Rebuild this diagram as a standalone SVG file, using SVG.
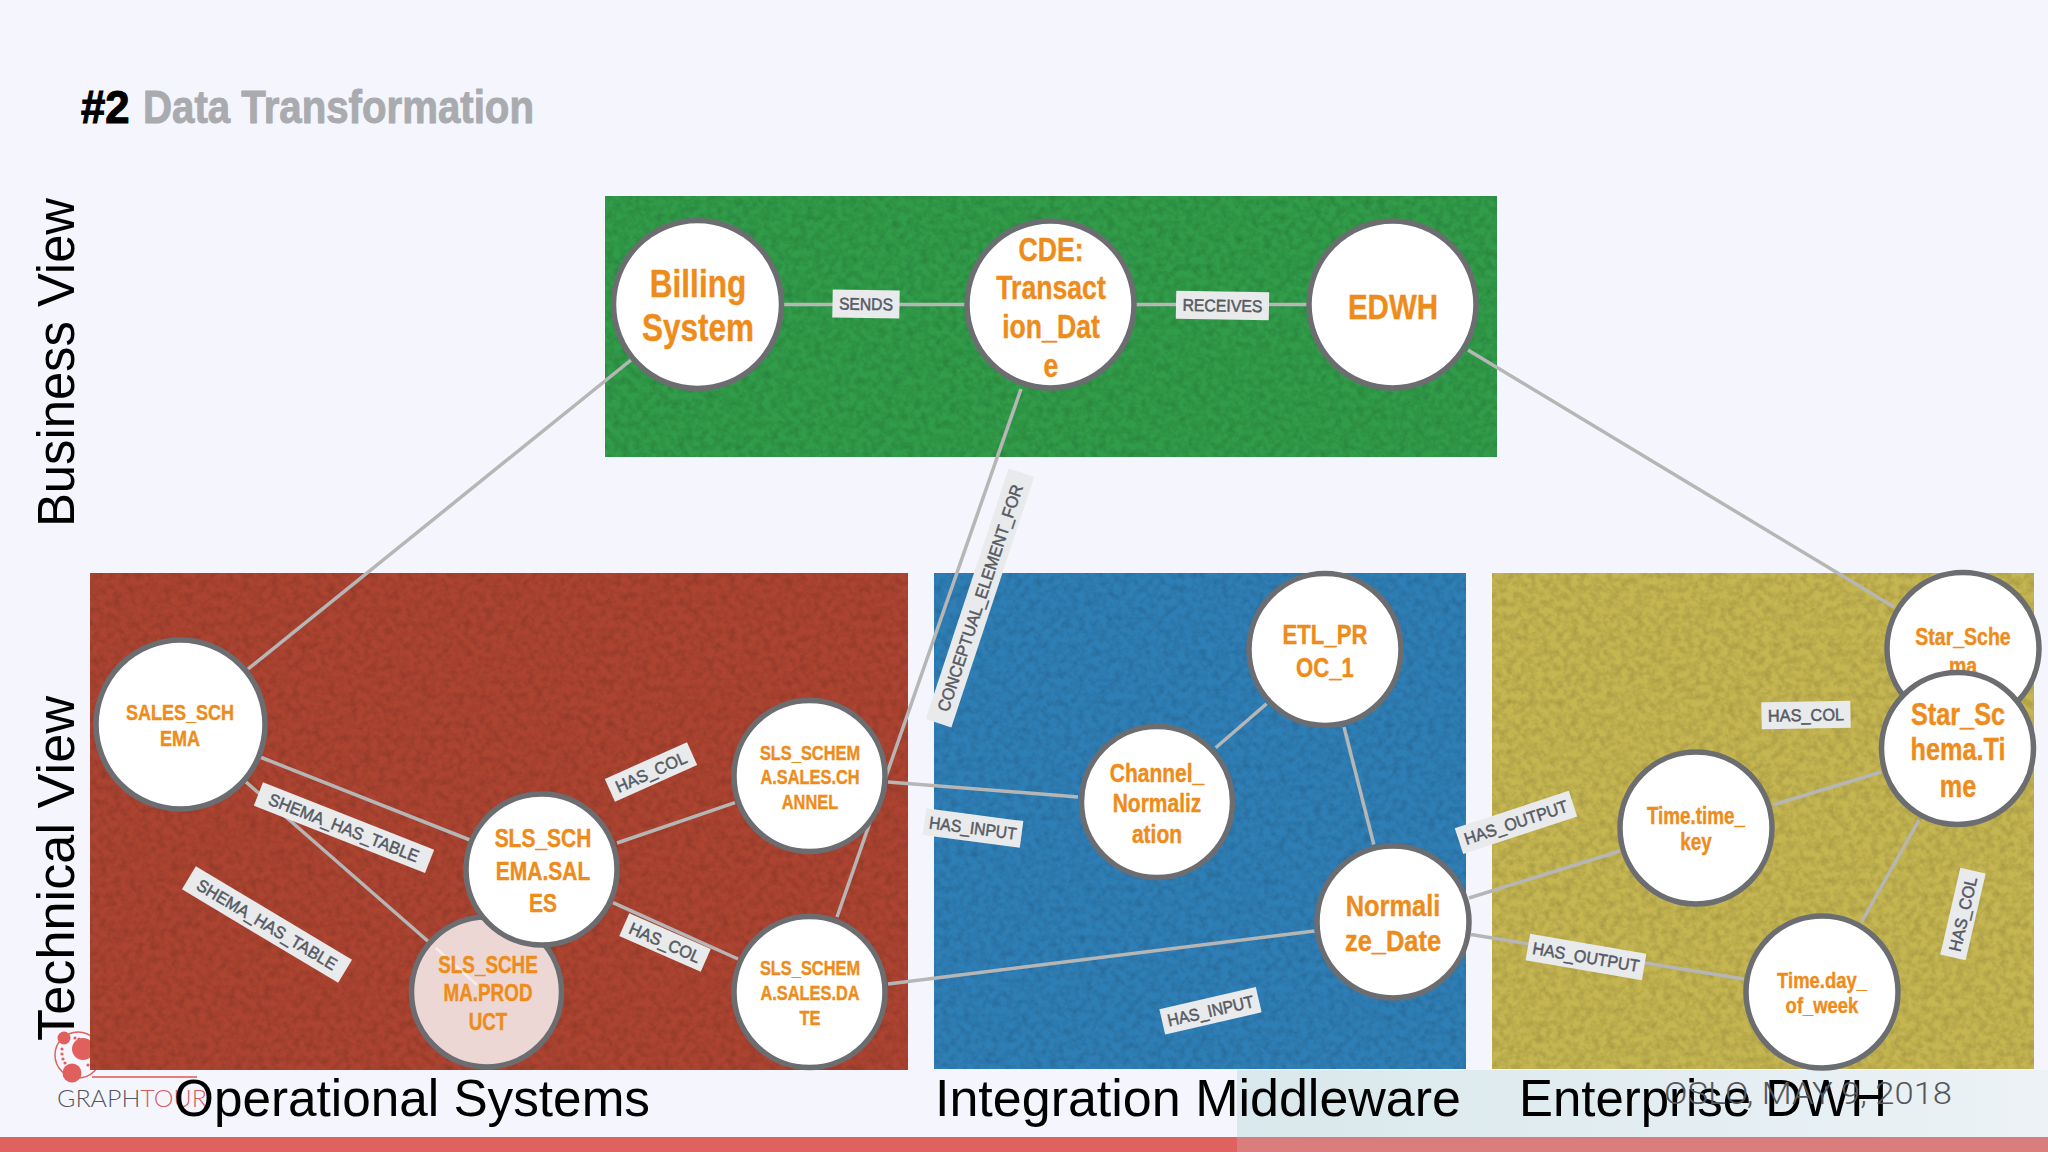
<svg xmlns="http://www.w3.org/2000/svg" width="2048" height="1152" viewBox="0 0 2048 1152">
<defs>
<style>
text{font-family:"Liberation Sans",Arial,sans-serif}
.n{fill:#fff;stroke:#6c6d71;stroke-width:5.5}
.nt{fill:#ee8c1b;font-weight:bold;text-anchor:middle;stroke:#ee8c1b;stroke-width:.4}
.c{stroke:#b6b6b6;stroke-width:3.5;fill:none}
.lb{fill:#e9eaec}
.lt{fill:#565a63;font-size:17px;text-anchor:middle;stroke:#565a63;stroke-width:.5}
.big{fill:#000;font-size:52px}
.side{fill:#000;font-size:51px}
.logo{fill:#e0605e}
</style>
<filter id="paper" x="0" y="0" width="1" height="1" color-interpolation-filters="sRGB">
<feTurbulence type="fractalNoise" baseFrequency="0.14" numOctaves="4" seed="7" result="t"/>
<feColorMatrix in="t" values="0 0 0 0 0 0 0 0 0 0 0 0 0 0 0 0.28 0 0 0 -0.1" result="a"/>
<feComposite in="a" in2="SourceGraphic" operator="in" result="b"/>
<feMerge><feMergeNode in="SourceGraphic"/><feMergeNode in="b"/></feMerge>
</filter>
<linearGradient id="fade" x1="0" y1="0" x2="1" y2="0">
<stop offset="0" stop-color="#d9e8ec"/><stop offset="1" stop-color="#ecf2f6"/>
</linearGradient>
</defs>
<rect width="2048" height="1152" fill="#f5f6fd"/>
<rect x="1237" y="1070" width="811" height="67" fill="url(#fade)"/>
<rect x="0" y="1137" width="1237" height="15" fill="#e0625f"/>
<rect x="1237" y="1137" width="811" height="15" fill="#d97e7d"/>

<g id="logo">
<circle cx="78" cy="1055" r="23" fill="none" stroke="#e0605e" stroke-width="1.5"/>
<circle class="logo" cx="64" cy="1038" r="6.5"/><circle class="logo" cx="72" cy="1073" r="9.5"/><circle class="logo" cx="83" cy="1049" r="11"/>
<circle class="logo" cx="62" cy="1049" r="1.6"/><circle class="logo" cx="62" cy="1054" r="1.6"/><circle class="logo" cx="63" cy="1059" r="1.6"/><circle class="logo" cx="65" cy="1063" r="1.6"/><circle class="logo" cx="75" cy="1038" r="1.6"/><circle class="logo" cx="79" cy="1039" r="1.6"/><circle class="logo" cx="88" cy="1065" r="1.6"/>
<rect x="92" y="1076.2" width="105" height="1.6" fill="#e0605e"/>
<text x="57" y="1107" font-size="24" font-weight="300" textLength="150" lengthAdjust="spacingAndGlyphs" style="font-family:Lato,sans-serif"><tspan fill="#55565c">GRAPH</tspan><tspan fill="#d85f5f">TOUR</tspan></text>
</g>

<g id="panels">
<rect x="605" y="196" width="892" height="261" fill="#319c49" filter="url(#paper)"/>
<rect x="90" y="573" width="818" height="497" fill="#ad4431" filter="url(#paper)"/>
<rect x="934" y="573" width="532" height="496" fill="#2f7fb7" filter="url(#paper)"/>
<rect x="1492" y="573" width="542" height="496" fill="#c5b651" filter="url(#paper)"/>
</g>

<text id="title" y="122.5" font-size="47" font-weight="bold"><tspan x="81" textLength="48.5" lengthAdjust="spacingAndGlyphs" fill="#000" stroke="#000" stroke-width="1.2">#2</tspan><tspan x="143" textLength="391" lengthAdjust="spacingAndGlyphs" fill="#aaabaf" stroke="#aaabaf" stroke-width="1">Data Transformation</tspan></text>
<text class="side" transform="translate(74,527) rotate(-90)" textLength="329" lengthAdjust="spacingAndGlyphs">Business View</text>
<text class="side" transform="translate(74,1041) rotate(-90)" textLength="345" lengthAdjust="spacingAndGlyphs">Technical View</text>
<text class="big" x="174" y="1116" textLength="476" lengthAdjust="spacingAndGlyphs">Operational Systems</text>
<text class="big" x="935" y="1116" textLength="526" lengthAdjust="spacingAndGlyphs">Integration Middleware</text>
<text class="big" x="1519" y="1116" textLength="368" lengthAdjust="spacingAndGlyphs">Enterprise DWH</text>
<text x="1664" y="1104" font-size="31" font-weight="300" fill="#55565c" textLength="288" lengthAdjust="spacingAndGlyphs" style="font-family:Roboto,sans-serif">OSLO, MAY 9, 2018</text>

<g id="connectors">
<line class="c" x1="631" y1="360" x2="248" y2="669"/>
<line class="c" x1="780" y1="304.5" x2="966" y2="304.5"/>
<line class="c" x1="1134" y1="304.5" x2="1310" y2="304.5"/>
<line class="c" x1="1021" y1="389" x2="837" y2="917"/>
<line class="c" x1="1468" y1="350" x2="1894" y2="607"/>
<line class="c" x1="260" y1="757" x2="470" y2="840"/>
<line class="c" x1="246" y1="782" x2="486" y2="992"/>
<line class="c" x1="617" y1="843" x2="735" y2="802.7"/>
<line class="c" x1="613" y1="902.7" x2="738" y2="959"/>
<line class="c" x1="888" y1="782" x2="1078" y2="797"/>
<line class="c" x1="888" y1="984" x2="1314.5" y2="931"/>
<line class="c" x1="1215.7" y1="747.8" x2="1266.6" y2="703.7"/>
<line class="c" x1="1344" y1="727" x2="1373.8" y2="844.5"/>
<line class="c" x1="1469" y1="898" x2="1620" y2="851"/>
<line class="c" x1="1471" y1="934.6" x2="1744" y2="979"/>
<line class="c" x1="1772.7" y1="805" x2="1881" y2="772"/>
<line class="c" x1="1919" y1="820" x2="1861.5" y2="922"/>
<g transform="translate(866,304) rotate(1)"><rect class="lb" x="-33.5" y="-14" width="67" height="28"/><text class="lt" y="6" textLength="54" lengthAdjust="spacingAndGlyphs">SENDS</text></g>
<g transform="translate(1222.5,305.5) rotate(1)"><rect class="lb" x="-46.5" y="-14" width="93" height="28"/><text class="lt" y="6" textLength="80" lengthAdjust="spacingAndGlyphs">RECEIVES</text></g>
<g transform="translate(980,598) rotate(-71.7)"><rect class="lb" x="-132" y="-13.5" width="264" height="27"/><text class="lt" y="6" textLength="238" lengthAdjust="spacingAndGlyphs">CONCEPTUAL_ELEMENT_FOR</text></g>
<g transform="translate(344,827.7) rotate(21.5)"><rect class="lb" x="-92" y="-12.5" width="184" height="25"/><text class="lt" y="6" textLength="160" lengthAdjust="spacingAndGlyphs">SHEMA_HAS_TABLE</text></g>
<g transform="translate(267,924.5) rotate(30.9)"><rect class="lb" x="-91" y="-13.5" width="182" height="27"/><text class="lt" y="6" textLength="160" lengthAdjust="spacingAndGlyphs">SHEMA_HAS_TABLE</text></g>
<g transform="translate(651,772) rotate(-24)"><rect class="lb" x="-45" y="-12.5" width="90" height="25"/><text class="lt" y="6" textLength="76" lengthAdjust="spacingAndGlyphs">HAS_COL</text></g>
<g transform="translate(665,942.5) rotate(23.7)"><rect class="lb" x="-44.5" y="-12.5" width="89" height="25"/><text class="lt" y="6" textLength="76" lengthAdjust="spacingAndGlyphs">HAS_COL</text></g>
<g transform="translate(973,828) rotate(7.6)"><rect class="lb" x="-49" y="-13.5" width="98" height="27"/><text class="lt" y="6" textLength="88" lengthAdjust="spacingAndGlyphs">HAS_INPUT</text></g>
<g transform="translate(1210.5,1010.8) rotate(-13)"><rect class="lb" x="-49.5" y="-13" width="99" height="26"/><text class="lt" y="6" textLength="88" lengthAdjust="spacingAndGlyphs">HAS_INPUT</text></g>
<g transform="translate(1516,822.4) rotate(-18.2)"><rect class="lb" x="-60" y="-13.5" width="120" height="27"/><text class="lt" y="6" textLength="108" lengthAdjust="spacingAndGlyphs">HAS_OUTPUT</text></g>
<g transform="translate(1586,957) rotate(9.7)"><rect class="lb" x="-59" y="-13.5" width="118" height="27"/><text class="lt" y="6" textLength="108" lengthAdjust="spacingAndGlyphs">HAS_OUTPUT</text></g>
<g transform="translate(1806,715) rotate(-1)"><rect class="lb" x="-44.5" y="-13.5" width="89" height="27"/><text class="lt" y="6" textLength="76" lengthAdjust="spacingAndGlyphs">HAS_COL</text></g>
<g transform="translate(1963,914) rotate(-77)"><rect class="lb" x="-44.5" y="-13" width="89" height="26"/><text class="lt" y="6" textLength="76" lengthAdjust="spacingAndGlyphs">HAS_COL</text></g>
</g>

<g id="nodes">
<g id="billing"><circle class="n" cx="697.5" cy="304.5" r="84"/><g transform="translate(698,0) scale(.83,1)"><text class="nt" font-size="38" y="297">Billing</text><text class="nt" font-size="38" y="341">System</text></g></g>
<g id="cde"><circle class="n" cx="1050.5" cy="304.5" r="83.5"/><g transform="translate(1051,0) scale(.82,1)"><text class="nt" font-size="32.5" y="261">CDE:</text><text class="nt" font-size="32.5" y="299.5">Transact</text><text class="nt" font-size="32.5" y="338.5">ion_Dat</text><text class="nt" font-size="32.5" y="377">e</text></g></g>
<g id="edwh"><circle class="n" cx="1392.5" cy="304.5" r="83.5"/><g transform="translate(1393,0) scale(.82,1)"><text class="nt" font-size="36" y="319">EDWH</text></g></g>
<g id="sales-schema"><circle class="n" cx="180.5" cy="724.5" r="84.5"/><g transform="translate(180,0) scale(.82,1)"><text class="nt" font-size="22" y="720">SALES_SCH</text><text class="nt" font-size="22" y="746">EMA</text></g></g>
<g id="sls-product"><circle class="n" cx="486.5" cy="992" r="75" style="fill:#ecd7d5"/><line x1="436" y1="948" x2="477" y2="985" stroke="#fff" stroke-width="2.5" opacity=".55"/><g transform="translate(488,0) scale(.82,1)"><text class="nt" font-size="23" y="973">SLS_SCHE</text><text class="nt" font-size="23" y="1001.5">MA.PROD</text><text class="nt" font-size="23" y="1030">UCT</text></g></g>
<g id="sls-sales"><circle class="n" cx="541.5" cy="869.5" r="75.5"/><g transform="translate(543,0) scale(.82,1)"><text class="nt" font-size="25.6" y="847">SLS_SCH</text><text class="nt" font-size="25.6" y="880">EMA.SAL</text><text class="nt" font-size="25.6" y="912">ES</text></g></g>
<g id="sls-channel"><circle class="n" cx="809.5" cy="776" r="75.5"/><g transform="translate(810,0) scale(.82,1)"><text class="nt" font-size="20" y="760">SLS_SCHEM</text><text class="nt" font-size="20" y="784.5">A.SALES.CH</text><text class="nt" font-size="20" y="809">ANNEL</text></g></g>
<g id="sls-date"><circle class="n" cx="809.5" cy="992" r="75.5"/><g transform="translate(810,0) scale(.82,1)"><text class="nt" font-size="20" y="975">SLS_SCHEM</text><text class="nt" font-size="20" y="1000">A.SALES.DA</text><text class="nt" font-size="20" y="1025">TE</text></g></g>
<g id="channel-norm"><circle class="n" cx="1157" cy="802" r="75.5"/><g transform="translate(1157,0) scale(.82,1)"><text class="nt" font-size="25.6" y="782">Channel_</text><text class="nt" font-size="25.6" y="812">Normaliz</text><text class="nt" font-size="25.6" y="843">ation</text></g></g>
<g id="etl"><circle class="n" cx="1325" cy="649.5" r="76"/><g transform="translate(1325,0) scale(.82,1)"><text class="nt" font-size="27" y="644.5">ETL_PR</text><text class="nt" font-size="27" y="677">OC_1</text></g></g>
<g id="normalize"><circle class="n" cx="1393" cy="922" r="76"/><g transform="translate(1393,0) scale(.84,1)"><text class="nt" font-size="30.3" y="916">Normali</text><text class="nt" font-size="30.3" y="951">ze_Date</text></g></g>
<g id="star-schema"><circle class="n" cx="1963" cy="648.5" r="76"/><g transform="translate(1963,0) scale(.83,1)"><text class="nt" font-size="23.5" y="645">Star_Sche</text><text class="nt" font-size="23.5" y="674">ma</text></g></g>
<g id="star-time"><circle class="n" cx="1957.5" cy="748.5" r="76"/><g transform="translate(1958,0) scale(.82,1)"><text class="nt" font-size="30.8" y="725">Star_Sc</text><text class="nt" font-size="30.8" y="760.5">hema.Ti</text><text class="nt" font-size="30.8" y="797">me</text></g></g>
<g id="time-key"><circle class="n" cx="1696" cy="828" r="76"/><g transform="translate(1696,0) scale(.82,1)"><text class="nt" font-size="23" y="824">Time.time_</text><text class="nt" font-size="23" y="850">key</text></g></g>
<g id="time-day"><circle class="n" cx="1822" cy="992" r="76"/><g transform="translate(1822,0) scale(.82,1)"><text class="nt" font-size="22.5" y="988">Time.day_</text><text class="nt" font-size="22.5" y="1013">of_week</text></g></g>
</g>
</svg>
